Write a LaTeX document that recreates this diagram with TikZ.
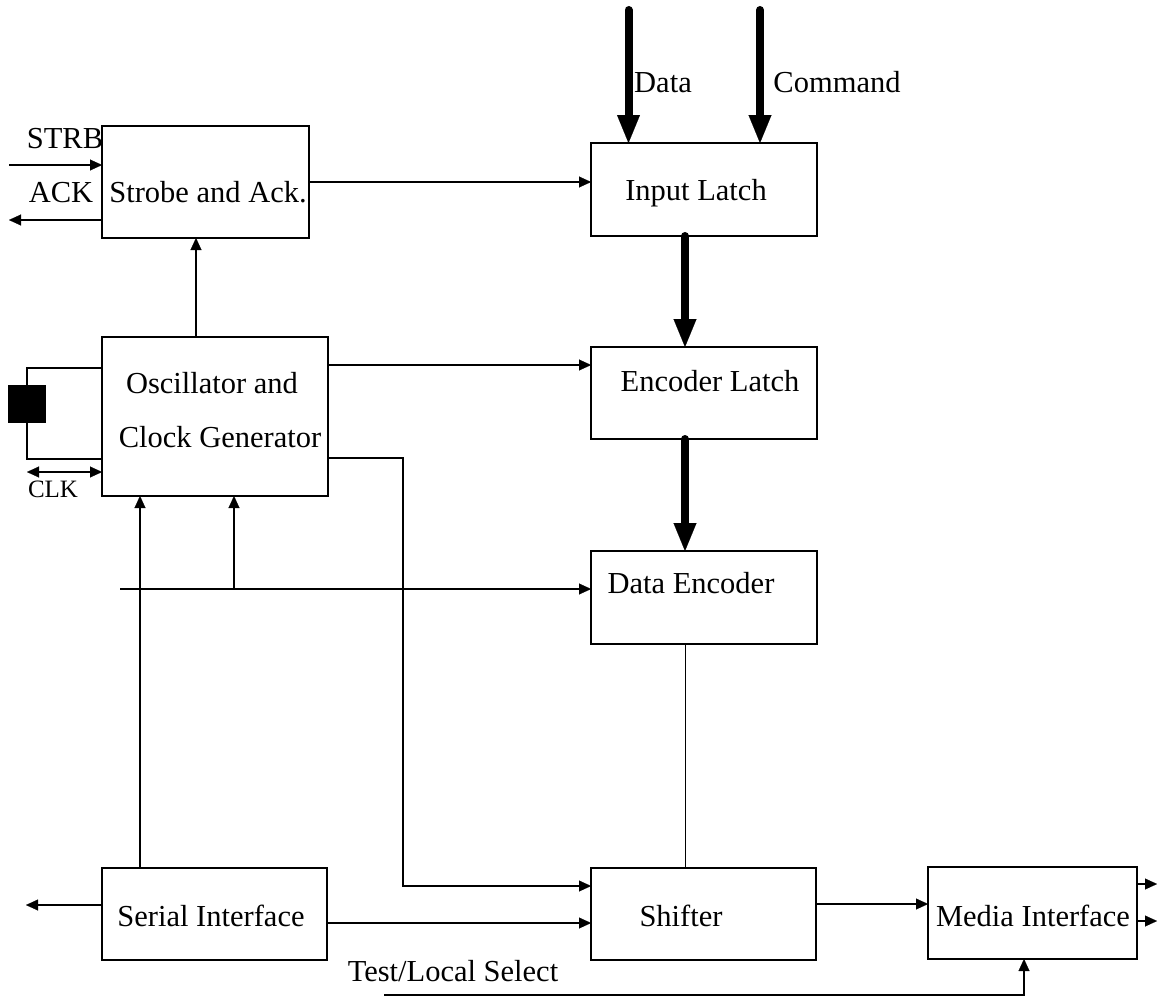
\documentclass[tikz,border=0pt]{standalone}
\usepackage{fontspec}
\setmainfont{Liberation Serif}
\usetikzlibrary{arrows.meta}
\tikzset{
  box/.style={draw, line width=2pt, inner sep=0pt, outer sep=0pt},
  lbl/.style={inner sep=0pt, anchor=base, font=\fontsize{30.5}{36}\selectfont},
  small/.style={inner sep=0pt, anchor=base, font=\fontsize{25}{30}\selectfont},
  arr/.style={line width=2.3pt, -{Triangle[length=12pt,width=11pt,line width=0.1pt]}},
  plain/.style={line width=1.8pt},
  thin/.style={line width=1pt},
  thinarr/.style={line width=1.2pt, -{Triangle[length=12pt,width=11pt,line width=0.1pt]}},
  bus/.style={line width=8pt, line cap=round, -{Triangle[length=28pt,width=23pt,line width=0.1pt]}},
}
\begin{document}
\begin{tikzpicture}[x=1pt,y=-1pt]
\useasboundingbox[fill=white] (0,0) rectangle (1158,998);
% boxes
\node[box, minimum width=207pt, minimum height=112pt] (sa) at (205.5,182) {};
\node[box, minimum width=226pt, minimum height=93pt] (il) at (704,189.5) {};
\node[box, minimum width=226pt, minimum height=92pt] (el) at (704,393) {};
\node[box, minimum width=226pt, minimum height=93pt] (de) at (704,597.5) {};
\node[box, minimum width=226pt, minimum height=159pt] (osc) at (215,416.5) {};
\node[box, minimum width=225pt, minimum height=92pt] (si) at (214.5,914) {};
\node[box, minimum width=225pt, minimum height=92pt] (sh) at (703.5,914) {};
\node[box, minimum width=209pt, minimum height=92pt] (mi) at (1032.5,913) {};
\node[fill=black, minimum width=38pt, minimum height=38pt, inner sep=0pt, outer sep=0pt] (xtal) at (27,404) {};
% labels
\node[lbl] (tstrb) at (65,148) {STRB};
\node[lbl] (tack) at (61,202) {ACK};
\node[lbl] (tsa) at (208,202) {Strobe and Ack.};
\node[lbl] (tdata) at (663,92) {Data};
\node[lbl] (tcmd) at (837,92) {Command};
\node[lbl] (til) at (696,200) {Input Latch};
\node[lbl] (tel) at (710,391) {Encoder Latch};
\node[lbl] (tde) at (691,593) {Data Encoder};
\node[lbl] (tosc1) at (212,393) {Oscillator and};
\node[lbl] (tosc2) at (220,447) {Clock Generator};
\node[small] (tclk) at (53,497) {CLK};
\node[lbl] (tsi) at (211,926) {Serial Interface};
\node[lbl] (tsh) at (681,926) {Shifter};
\node[lbl] (tmi) at (1033,926) {Media Interface};
\node[lbl] (ttl) at (453,981) {Test/Local Select};
% free ends
\coordinate (strbin) at (9,165);
\coordinate (ackout) at (9,220);
\coordinate (datain) at (628.5,10);
\coordinate (cmdin) at (760,10);
\coordinate (busstart) at (120,589);
\coordinate (busbr) at (234,589);
\coordinate (serout) at (26,905);
\coordinate (mo1) at (1157,884);
\coordinate (mo2) at (1157,921);
\coordinate (tlstart) at (384,995);
% connectors
\draw[arr] (strbin) -- (sa.west |- strbin);
\draw[arr] (sa.west |- ackout) -- (ackout);
\draw[arr] (sa.east) -- (il.west |- sa.east);
\draw[bus] (datain) -- (il.north -| datain);
\draw[bus] (cmdin) -- (il.north -| cmdin);
\draw[bus] (il.south -| 685,0) -- (el.north -| 685,0);
\draw[bus] (el.south -| 685,0) -- (de.north -| 685,0);
\draw[thin] (de.south -| 685,0) -- (sh.north -| 685,0);
\draw[arr] (osc.north -| 196,0) -- (sa.south -| 196,0);
\draw[arr] (osc.east |- 0,365) -- (el.west |- 0,365);
\draw[thinarr] (osc.east |- 0,458) -- (403,458) -- (403,886) -- (sh.west |- 0,886);
\draw[plain] (osc.west |- 0,368) -- (27,368) -- (xtal.north);
\draw[plain] (xtal.south) -- (27,459) -- (osc.west |- 0,459);
\draw[line width=2.3pt, {Triangle[length=12pt,width=11pt,line width=0.1pt]}-{Triangle[length=12pt,width=11pt,line width=0.1pt]}] (27,472) -- (osc.west |- 0,472);
\draw[arr] (busstart) -- (de.west |- busstart);
\draw[arr] (busbr) -- (osc.south -| busbr);
\draw[arr] (si.north -| 140,0) -- (osc.south -| 140,0);
\draw[arr] (si.west |- serout) -- (serout);
\draw[arr] (si.east |- 0,923) -- (sh.west |- 0,923);
\draw[arr] (sh.east |- 0,904) -- (mi.west |- 0,904);
\draw[arr] (mi.east |- mo1) -- (mo1);
\draw[arr] (mi.east |- mo2) -- (mo2);
\draw[arr] (tlstart) -- (1024,995) -- (mi.south -| 1024,0);
\end{tikzpicture}
\end{document}
